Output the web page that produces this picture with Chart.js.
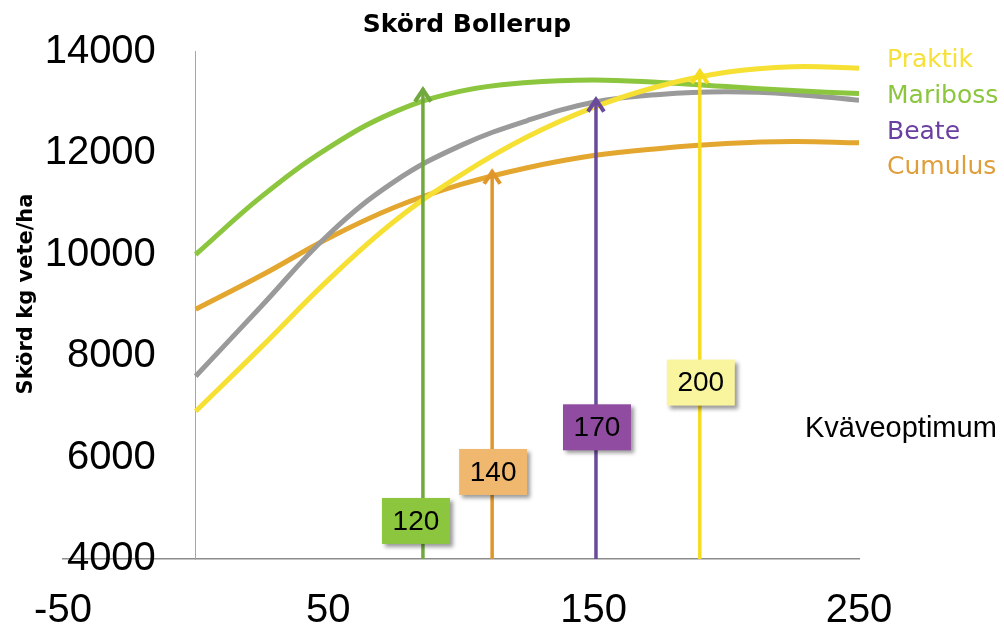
<!DOCTYPE html>
<html>
<head>
<meta charset="utf-8">
<title>Skörd Bollerup</title>
<script src="https://cdn.jsdelivr.net/npm/chart.js@4/dist/chart.umd.min.js"></script>
<style>
  body { margin: 0; background: #fff; }
  canvas { display: block; }
</style>
</head>
<body>
<canvas id="yieldChart" width="1004" height="629"></canvas>
<script>
// Kvävegödsling (kg N/ha) och skörd (kg vete/ha) per sort
const nRates   = [0, 25, 50, 75, 100, 125, 150, 175, 200, 225, 250];
const praktik  = [6910, 8190, 9500, 10660, 11570, 12320, 12900, 13320, 13590, 13700, 13670];
const mariboss = [10000, 11150, 12100, 12810, 13220, 13390, 13440, 13390, 13310, 13230, 13170];
const beate    = [7600, 8995, 10390, 11440, 12150, 12640, 13000, 13155, 13205, 13160, 13040];
const cumulus  = [8920, 9595, 10320, 10930, 11380, 11710, 11950, 12090, 12185, 12225, 12200];

// Kväveoptimum per sort: Mariboss, Cumulus, Beate, Praktik
const optimumN     = [120, 140, 170, 200];
const optimumYield = [13270, 11650, 13070, 13630];

const xTicks = [-50, 50, 150, 250];
const varieties = ['Praktik', 'Mariboss', 'Beate', 'Cumulus'];

const lineColors  = ['#f6e033', '#8cc63f', '#9a9a9a', '#e3a62f'];
const nameColors  = ['#f6e03a', '#8cc63f', '#6b3fa0', '#df9e3b'];
const arrowColors = ['#72a93f', '#e0962a', '#6a4a9c', '#f6dc1e'];
const boxColors   = ['#8cc63f', '#f0b86e', '#904ca0', '#f9f49e'];

const toPoints = (ys) => ys.map((y, i) => ({ x: nRates[i], y: y }));

const arrowSets = optimumN.map((n, i) => ({
    label: 'opt ' + n,
    xAxisID: 'xN',
    data: [{ x: n, y: 4000 }, { x: n, y: optimumYield[i] }],
    borderColor: arrowColors[i],
    borderWidth: 3.5,
    pointRadius: 0,
    tension: 0
}));

const curveSets = [praktik, mariboss, beate, cumulus].map((ys, i) => ({
    label: varieties[i],
    data: toPoints(ys),
    borderColor: lineColors[i],
    borderWidth: 5,
    pointRadius: 0,
    tension: 0.4
}));

// arrow heads + number boxes
const optimumPlugin = {
    id: 'optimum',
    afterDatasetsDraw(chart, args, opts) {
        const ctx = chart.ctx;
        const xs = chart.scales.xN, ys = chart.scales.y;
        optimumN.forEach((n, i) => {
            const x = xs.getPixelForValue(n);
            const y = ys.getPixelForValue(optimumYield[i]);
            ctx.save();
            ctx.strokeStyle = arrowColors[i];
            ctx.lineWidth = 4;
            ctx.beginPath();
            ctx.moveTo(x - 8, y + 13);
            ctx.lineTo(x, y + 1);
            ctx.lineTo(x + 8, y + 13);
            ctx.stroke();

            const w = 68, h = 46;
            const bx = x + opts.boxDx[i] - w / 2;
            const by = ys.getPixelForValue(opts.boxY[i]) - h / 2;
            ctx.shadowColor = 'rgba(0,0,0,0.4)';
            ctx.shadowBlur = 4;
            ctx.shadowOffsetX = 3;
            ctx.shadowOffsetY = 3;
            ctx.fillStyle = boxColors[i];
            ctx.fillRect(bx, by, w, h);
            ctx.shadowColor = 'transparent';
            ctx.fillStyle = '#000';
            ctx.font = '28px "Liberation Sans", Arial, sans-serif';
            ctx.textAlign = 'center';
            ctx.textBaseline = 'middle';
            ctx.fillText(String(n), bx + w / 2, by + h / 2 + 1);
            ctx.restore();
        });
    }
};

// title, axis title and the variety names on the right
const textPlugin = {
    id: 'texts',
    afterDraw(chart) {
        const ctx = chart.ctx;
        const area = chart.chartArea;
        ctx.save();
        ctx.fillStyle = '#000';
        ctx.textBaseline = 'alphabetic';
        ctx.textAlign = 'center';
        ctx.font = 'bold 25px "DejaVu Sans", Verdana, sans-serif';
        ctx.fillText('Skörd Bollerup', 467, 32);

        ctx.save();
        ctx.translate(32, 294);
        ctx.rotate(-Math.PI / 2);
        ctx.font = 'bold 21px "DejaVu Sans", Verdana, sans-serif';
        ctx.fillText('Skörd kg vete/ha', 0, 0);
        ctx.restore();

        ctx.textAlign = 'left';
        ctx.font = '25px "DejaVu Sans", Verdana, sans-serif';
        varieties.forEach((name, i) => {
            ctx.fillStyle = nameColors[i];
            ctx.fillText(name, area.right + 28, 67 + i * 35.8);
        });

        ctx.fillStyle = '#000';
        ctx.font = '29px "Liberation Sans", Arial, sans-serif';
        ctx.fillText('Kväveoptimum', 805, 437);
        ctx.restore();
    }
};

const tickFont = { family: '"Liberation Sans", Arial, sans-serif', size: 40, lineHeight: 1 };

new Chart(document.getElementById('yieldChart'), {
    type: 'line',
    data: { datasets: arrowSets.concat(curveSets) },
    options: {
        responsive: false,
        animation: false,
        layout: { padding: { left: 63, right: 145, top: 51.5, bottom: -34 } },
        plugins: {
            legend: { display: false },
            tooltip: { enabled: false },
            optimum: { boxDx: [-7, 1, 1, 1], boxY: [4750, 5715, 6595, 7476] }
        },
        scales: {
            x: {
                type: 'linear',
                min: -50,
                max: 250,
                grid: { display: false, drawTicks: false },
                border: { color: '#8c8c8c', width: 1.5 },
                ticks: { font: tickFont, color: '#000', padding: 32 },
                afterBuildTicks: (s) => { s.ticks = xTicks.map(v => ({ value: v })); }
            },
            xN: {
                type: 'linear',
                axis: 'x',
                position: 'bottom',
                display: false,
                ticks: { display: false },
                min: 16,
                max: 246
            },
            // axis line at N = 0
            y: {
                type: 'linear',
                axis: 'y',
                position: { x: 0 },
                min: 4000,
                max: 14000,
                grid: { display: false, drawTicks: false },
                border: { color: '#a6a6a6', width: 1 },
                ticks: { display: false, stepSize: 2000 }
            },
            // tick labels, right aligned a bit left of the axis line
            yTicks: {
                type: 'linear',
                axis: 'y',
                position: { x: -15 },
                min: 4000,
                max: 14000,
                grid: { display: false, drawTicks: false },
                border: { display: false },
                ticks: {
                    stepSize: 2000,
                    padding: 0,
                    font: tickFont,
                    color: '#000',
                    callback: (v) => String(v)
                }
            }
        }
    },
    plugins: [optimumPlugin, textPlugin]
});
</script>
</body>
</html>
